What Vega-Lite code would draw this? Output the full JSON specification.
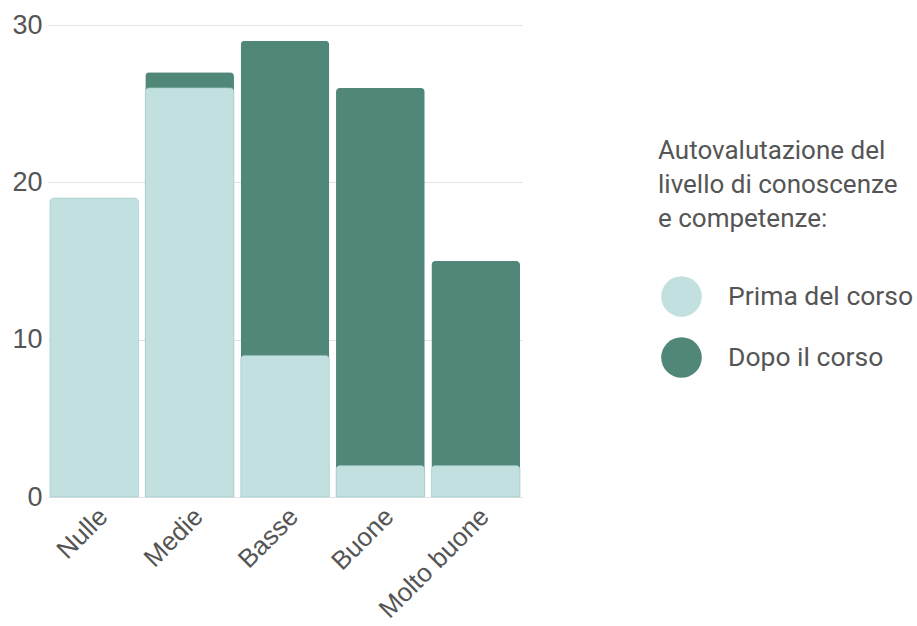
{
  "$schema": "https://vega.github.io/schema/vega-lite/v6.json",
  "width": 474,
  "height": 472,
  "autosize": {"type": "none"},
  "padding": {"left": 48, "top": 25, "right": 395, "bottom": 129},
  "background": "white",
  "config": {"view": {"stroke": null}},
  "data": {
    "values": [
      {"livello": "Nulle", "serie": "Prima del corso", "valore": 19},
      {"livello": "Medie", "serie": "Prima del corso", "valore": 26},
      {"livello": "Basse", "serie": "Prima del corso", "valore": 9},
      {"livello": "Buone", "serie": "Prima del corso", "valore": 2},
      {"livello": "Molto buone", "serie": "Prima del corso", "valore": 2},
      {"livello": "Nulle", "serie": "Dopo il corso", "valore": 0},
      {"livello": "Medie", "serie": "Dopo il corso", "valore": 1},
      {"livello": "Basse", "serie": "Dopo il corso", "valore": 20},
      {"livello": "Buone", "serie": "Dopo il corso", "valore": 24},
      {"livello": "Molto buone", "serie": "Dopo il corso", "valore": 13}
    ]
  },
  "encoding": {
    "x": {
      "field": "livello",
      "type": "nominal",
      "sort": ["Nulle", "Medie", "Basse", "Buone", "Molto buone"],
      "scale": {"paddingInner": 0.07, "paddingOuter": 0.02},
      "axis": {
        "title": null,
        "labelAngle": -45,
        "labelFont": "Liberation Sans",
        "labelFontSize": 26,
        "labelColor": "#555555",
        "domain": false,
        "ticks": false,
        "labelPadding": 6
      }
    }
  },
  "layer": [
    {
      "transform": [
        {"aggregate": [{"op": "sum", "field": "valore", "as": "totale"}], "groupby": ["livello"]},
        {"filter": "datum.totale > 19 || datum.livello != 'Nulle'"}
      ],
      "mark": {"type": "bar", "cornerRadiusTopLeft": 4, "cornerRadiusTopRight": 4},
      "encoding": {
        "y": {
          "field": "totale",
          "type": "quantitative",
          "scale": {"domain": [0, 30]},
          "axis": {
            "title": null,
            "values": [0, 10, 20, 30],
            "labelFont": "Liberation Sans",
            "labelFontSize": 27,
            "labelColor": "#555555",
            "domain": false,
            "ticks": false,
            "labelPadding": 6,
            "gridColor": "#e3e3e3",
            "gridWidth": 1
          }
        },
        "color": {
          "datum": "Dopo il corso",
          "type": "nominal"
        }
      }
    },
    {
      "transform": [{"filter": "datum.serie == 'Prima del corso'"}],
      "mark": {"type": "bar", "cornerRadiusTopLeft": 4, "cornerRadiusTopRight": 4, "stroke": "#aacfcf", "strokeWidth": 0.6},
      "encoding": {
        "y": {"field": "valore", "type": "quantitative"},
        "color": {
          "field": "serie",
          "type": "nominal",
          "scale": {
            "domain": ["Prima del corso", "Dopo il corso"],
            "range": ["#c2e0e0", "#508778"]
          },
          "legend": {
            "title": ["Autovalutazione del", "livello di conoscenze", "e competenze:"],
            "orient": "none",
            "legendX": 610,
            "legendY": 113,
            "titleFont": "Roboto",
            "titleFontSize": 26,
            "titleFontWeight": "normal",
            "titleColor": "#555555",
            "titleLineHeight": 34,
            "titleLimit": 400,
            "titlePadding": 44,
            "labelFont": "Roboto",
            "labelFontSize": 26.5,
            "labelLimit": 400,
            "labelColor": "#555555",
            "symbolType": "circle",
            "symbolSize": 1650,
            "symbolStrokeWidth": 0,
            "symbolOpacity": 1,
            "symbolOffset": 3,
            "labelOffset": 26,
            "rowPadding": 20
          }
        }
      }
    }
  ]
}
